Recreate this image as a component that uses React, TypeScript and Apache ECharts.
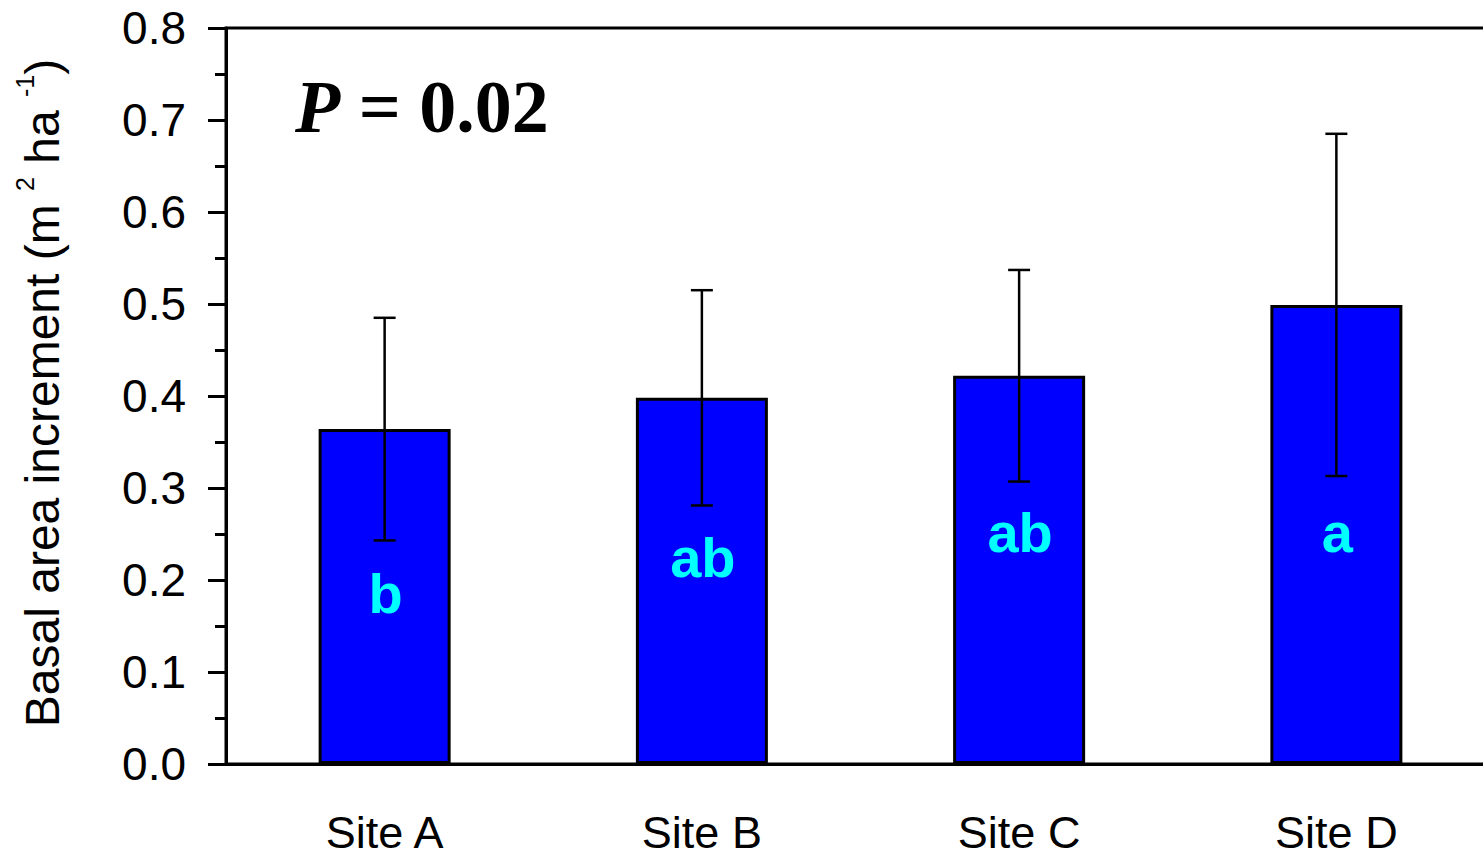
import React, { useEffect, useRef } from 'react';
import * as echarts from 'echarts';

const sites = ['Site A', 'Site B', 'Site C', 'Site D'];
const means = [0.364, 0.398, 0.422, 0.499];
const errors = [0.121, 0.117, 0.115, 0.186];
const letters = ['b', 'ab', 'ab', 'a'];
const letterY = [0.185, 0.225, 0.252, 0.252];
const yMin = 0;
const yMax = 0.8;
const yStep = 0.1;
const pLabel = '{i|P} = 0.02';
const yTitle = '{n|Basal area increment (m }{s|2}{n| ha }{s|-1}{n|)}';

const SANS = '"Liberation Sans", Arial, sans-serif';
const SERIF = '"Liberation Serif", "Times New Roman", serif';

export default function App() {
  const ref = useRef<HTMLDivElement>(null);
  useEffect(() => {
    document.body.style.margin = '0';
    document.body.style.overflow = 'hidden';
    if (!ref.current) return;
    const chart = echarts.init(ref.current, null, { renderer: 'svg' });
    const option: any = {
      animation: false,
      grid: {
        left: 226,
        top: 28,
        width: 1269,
        height: 736,
        outerBoundsMode: 'none',
        containLabel: false,
        show: true,
        borderColor: '#000',
        borderWidth: 3,
        backgroundColor: 'transparent',
      },
      xAxis: {
        type: 'category',
        data: sites,
        axisLine: { show: true, lineStyle: { color: '#000', width: 3 } },
        axisTick: { show: false },
        axisLabel: { color: '#000', fontSize: 45, lineHeight: 36, fontFamily: SANS, margin: 50 },
        splitLine: { show: false },
      },
      yAxis: {
        type: 'value',
        min: yMin,
        max: yMax,
        interval: yStep,
        axisLine: { show: true, lineStyle: { color: '#000', width: 3 } },
        axisTick: { show: true, inside: false, length: 18, lineStyle: { color: '#000', width: 3 } },
        minorTick: { show: true, splitNumber: 2, length: 11, lineStyle: { color: '#000', width: 3 } },
        axisLabel: {
          color: '#000',
          fontSize: 46,
          fontFamily: SANS,
          margin: 40,
          formatter: (v: number) => v.toFixed(1),
        },
        splitLine: { show: false },
      },
      series: [
        {
          type: 'bar',
          data: means,
          barWidth: 132,
          itemStyle: { color: '#0000FF', borderColor: '#000', borderWidth: 3 },
          z: 2,
        },
        {
          type: 'custom',
          z: 3,
          encode: { x: 0, y: [1, 2] },
          data: means.map((m, i) => [i, m - errors[i], m + errors[i]]),
          renderItem: (params: any, api: any) => {
            const i = api.value(0);
            const lo = api.coord([i, api.value(1)]);
            const hi = api.coord([i, api.value(2)]);
            const cap = 11;
            const ls = { stroke: '#000', lineWidth: 2.5 };
            return {
              type: 'group',
              children: [
                { type: 'line', shape: { x1: lo[0], y1: lo[1], x2: hi[0], y2: hi[1] }, style: ls },
                { type: 'line', shape: { x1: hi[0] - cap, y1: hi[1], x2: hi[0] + cap, y2: hi[1] }, style: ls },
                { type: 'line', shape: { x1: lo[0] - cap, y1: lo[1], x2: lo[0] + cap, y2: lo[1] }, style: ls },
              ],
            };
          },
        },
        {
          type: 'custom',
          z: 4,
          encode: { x: 0, y: 1 },
          data: letterY.map((y, i) => [i, y]),
          renderItem: (params: any, api: any) => {
            const i = params.dataIndex;
            const p = api.coord([api.value(0), api.value(1)]);
            return {
              type: 'text',
              x: p[0] + 1,
              y: p[1],
              style: {
                text: letters[i],
                fill: '#00FFFF',
                fontSize: 56,
                fontWeight: 'bold',
                fontFamily: SANS,
                align: 'center',
                verticalAlign: 'middle',
              },
            };
          },
        },
      ],
      graphic: [
        {
          type: 'text',
          x: 295,
          y: 107,
          style: {
            text: pLabel,
            rich: {
              i: { fontStyle: 'italic', fontWeight: 'bold', fontSize: 74, fontFamily: SERIF, fill: '#000' },
            },
            fontSize: 74,
            fontWeight: 'bold',
            fontFamily: SERIF,
            fill: '#000',
            align: 'left',
            verticalAlign: 'middle',
          },
        },
        {
          type: 'text',
          x: 42,
          y: 393,
          rotation: Math.PI / 2,
          style: {
            text: yTitle,
            rich: {
              n: { fontSize: 48, lineHeight: 60, fontFamily: SANS, fill: '#000' },
              s: { fontSize: 25, lineHeight: 22, verticalAlign: 'top', fontFamily: SANS, fill: '#000' },
            },
            align: 'center',
            verticalAlign: 'middle',
          },
        },
      ],
    };
    chart.setOption(option);
    return () => chart.dispose();
  }, []);
  return (
    <div
      ref={ref}
      style={{
        position: 'absolute',
        left: 0,
        top: 0,
        width: 1483,
        height: 855,
        overflow: 'hidden',
        background: '#fff',
      }}
    />
  );
}
